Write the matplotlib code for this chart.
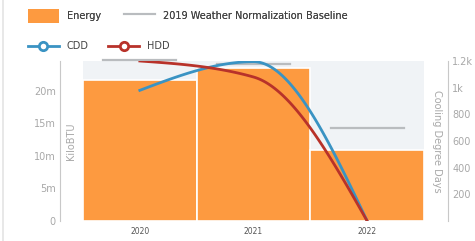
from matplotlib import pyplot as plt
from matplotlib.lines import Line2D
from matplotlib.patches import Patch
import numpy as np

# Data.
years = ['2020', '2021', '2022']
energy = [21.7e6, 23.5e6, 10.9e6]        # KiloBTU
baseline = [24.8e6, 24.2e6, 14.3e6]      # 2019 weather normalization baseline
cdd = [980, 1195, 0]
hdd = [1200, 1080, 0]

orange = '#fd9a40'
blue = '#3a93c3'
red = '#b8322a'
grey_txt = '#a8a8a8'


def monotone(x, y, n=60):
    # monotone cubic (d3 curveMonotoneX) used to draw the smooth lines
    x = np.asarray(x, float)
    y = np.asarray(y, float)
    h = np.diff(x)
    s = np.diff(y) / h
    t = np.zeros(len(x))
    for i in range(1, len(x) - 1):
        p = (s[i - 1] * h[i] + s[i] * h[i - 1]) / (h[i - 1] + h[i])
        t[i] = (np.sign(s[i - 1]) + np.sign(s[i])) * min(abs(s[i - 1]), abs(s[i]), 0.5 * abs(p))
    t[0] = (3 * s[0] - t[1]) / 2
    t[-1] = (3 * s[-1] - t[-2]) / 2
    xs, ys = [], []
    for i in range(len(x) - 1):
        u = np.linspace(0, 1, n)
        h00 = 2 * u**3 - 3 * u**2 + 1
        h10 = u**3 - 2 * u**2 + u
        h01 = -2 * u**3 + 3 * u**2
        h11 = u**3 - u**2
        xs.append(x[i] + u * h[i])
        ys.append(h00 * y[i] + h10 * h[i] * t[i] + h01 * y[i + 1] + h11 * h[i] * t[i + 1])
    return np.concatenate(xs), np.concatenate(ys)


fig = plt.figure(figsize=(4.75, 2.41), dpi=100)
ax = fig.add_axes([83 / 475, 20 / 241, 341 / 475, 160 / 241])
ax.set_facecolor('#f0f3f6')

xpos = np.arange(len(years))
ax.bar(xpos, energy, width=1.0, color=orange, edgecolor='white', linewidth=1.2, zorder=2)
for i, b in enumerate(baseline):
    ax.plot([i - 0.32, i + 0.32], [b, b], color='#b9bcbf', lw=1.6, zorder=3, clip_on=False)

ax.set_xlim(-0.5, 2.5)
ax.set_ylim(0, 24.6e6)
ax.set_xticks(xpos, years)
ax.set_yticks([0, 5e6, 10e6, 15e6, 20e6], ['0', '5m', '10m', '15m', '20m'])
ax.tick_params(axis='x', length=0, pad=4, labelsize=5.5, labelcolor='#555555')
ax.tick_params(axis='y', length=0, pad=3, labelsize=7, labelcolor=grey_txt)
for sp in ['top', 'right', 'bottom']:
    ax.spines[sp].set_visible(False)
ax.spines['left'].set_position(('outward', 16.5))
ax.spines['left'].set_color('#c8c8c8')
ax.text(-0.035, 0.5, 'KiloBTU', transform=ax.transAxes, rotation=90,
        ha='center', va='center', fontsize=7, color=grey_txt)

ax2 = ax.twinx()
xc, yc = monotone(xpos, cdd)
xh, yh = monotone(xpos, hdd)
ax2.plot(xc, yc, color=blue, lw=2, zorder=4)
ax2.plot(xh, yh, color=red, lw=2, zorder=4)
ax2.set_ylim(0, 1200)
ax2.set_yticks([200, 400, 600, 800, 1000, 1200], ['200', '400', '600', '800', '1k', '1.2k'])
ax2.tick_params(axis='y', length=0, pad=3, labelsize=7, labelcolor=grey_txt)
for sp in ['top', 'left', 'bottom']:
    ax2.spines[sp].set_visible(False)
ax2.spines['right'].set_position(('outward', 17.3))
ax2.spines['right'].set_color('#c8c8c8')
ax2.text(1.038, 0.5, 'Cooling Degree Days', transform=ax.transAxes, rotation=-90,
         ha='center', va='center', fontsize=7, color=grey_txt)

# Legend
handles1 = [Patch(facecolor=orange, edgecolor='none'),
            Line2D([0], [0], color='#b9bcbf', lw=1.5)]
leg1 = fig.legend(handles1, ['Energy', '2019 Weather Normalization Baseline'],
                  loc='upper left', bbox_to_anchor=(0.04, 1.0), ncol=2, frameon=False,
                  fontsize=7, handlelength=3.2, handleheight=1.9, columnspacing=2.4,
                  handletextpad=0.8, labelcolor='#444444')
handles2 = [Line2D([0], [0], color=blue, lw=2, marker='o', markersize=6,
                   markerfacecolor='white', markeredgewidth=2),
            Line2D([0], [0], color=red, lw=2, marker='o', markersize=6,
                   markerfacecolor='white', markeredgewidth=2)]
fig.legend(handles2, ['CDD', 'HDD'], loc='upper left', bbox_to_anchor=(0.04, 0.865),
           ncol=2, frameon=False, fontsize=7, handlelength=3.2, columnspacing=2.0,
           handletextpad=0.8, labelcolor='#444444')
fig.add_artist(leg1)

fig.add_artist(Line2D([3 / 475, 3 / 475], [0, 1], color='#e4e4e4', lw=1.2))

fig.savefig('out.png', dpi=100)
